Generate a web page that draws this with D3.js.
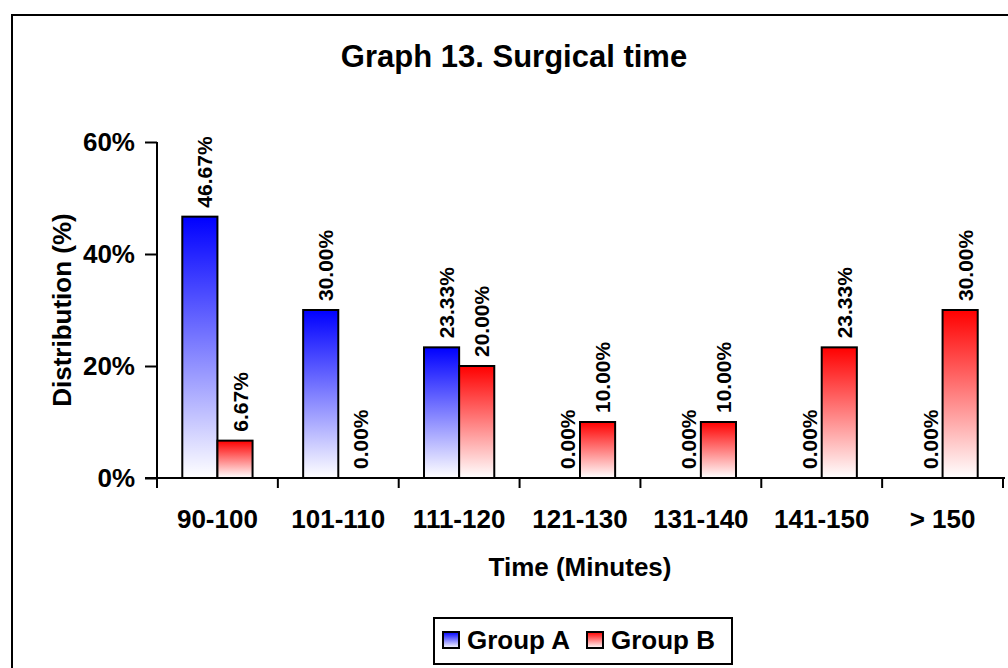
<!DOCTYPE html>
<html>
<head>
<meta charset="utf-8">
<script src="https://d3js.org/d3.v7.min.js"></script>
<style>
  body { margin: 0; background: #fff; }
  svg text { font-family: Arial, "Liberation Sans", sans-serif; font-weight: bold; fill: #000; }
</style>
</head>
<body>
<div id="chart"></div>
<script>
  // data
  var categories = ["90-100", "101-110", "111-120", "121-130", "131-140", "141-150", "> 150"];
  var groups = ["Group A", "Group B"];
  var groupA = [46.67, 30.00, 23.33, 0.00, 0.00, 0.00, 0.00];
  var groupB = [6.67, 0.00, 20.00, 10.00, 10.00, 23.33, 30.00];
  var yTicks = [0, 20, 40, 60];

  var W = 1008, H = 668;
  var plot = {left: 157, right: 1003, top: 142, bottom: 478};
  var colors = {"Group A": "#0000ff", "Group B": "#ff0000"};

  var svg = d3.select("#chart")
    .append("svg")
      .attr("width", W)
      .attr("height", H);

  // gradients, saturated at top fading to white
  var defs = svg.append("defs");
  groups.forEach(function(g, i) {
    var grad = defs.append("linearGradient")
      .attr("id", "grad" + i)
      .attr("x1", 0).attr("y1", 0).attr("x2", 0).attr("y2", 1);
    grad.append("stop").attr("offset", "0%").attr("stop-color", colors[g]);
    grad.append("stop").attr("offset", "100%").attr("stop-color", "#ffffff");
  });

  // outer frame (runs off right and bottom)
  svg.append("rect")
    .attr("x", 12).attr("y", 15)
    .attr("width", W).attr("height", H)
    .attr("fill", "none")
    .attr("stroke", "#000")
    .attr("stroke-width", 2);

  svg.append("text")
    .attr("x", 514).attr("y", 67)
    .attr("text-anchor", "middle")
    .style("font-size", "31px")
    .text("Graph 13. Surgical time");

  var x = d3.scaleBand()
    .domain(categories)
    .range([plot.left, plot.right]);

  var xSub = d3.scaleBand()
    .domain(groups)
    .range([0, x.bandwidth()])
    .paddingOuter(0.72);

  var y = d3.scaleLinear()
    .domain([0, 60])
    .range([plot.bottom, plot.top]);

  // Y axis
  var yAxis = svg.append("g")
    .attr("transform", "translate(" + plot.left + ",0)")
    .call(d3.axisLeft(y).tickValues(yTicks).tickSize(12).tickPadding(10).tickFormat(function(d) { return d + "%"; }));
  yAxis.select(".domain").attr("stroke-width", 2).attr("d", "M0," + plot.top + "V" + plot.bottom);
  yAxis.selectAll(".tick line").attr("stroke-width", 2);
  yAxis.selectAll(".tick text").style("font-size", "26px").attr("font-family", null);

  // X axis: ticks at category boundaries
  var xAxis = svg.append("g")
    .attr("transform", "translate(0," + plot.bottom + ")");
  xAxis.append("line")
    .attr("x1", plot.left - 12).attr("x2", plot.right + 2)
    .attr("stroke", "#000").attr("stroke-width", 2);
  xAxis.selectAll("line.tick")
    .data(categories.concat(["end"]))
    .enter().append("line")
    .attr("class", "tick")
    .attr("x1", function(d, i) { return i < categories.length ? x(d) : plot.right; })
    .attr("x2", function(d, i) { return i < categories.length ? x(d) : plot.right; })
    .attr("y1", 0).attr("y2", 10)
    .attr("stroke", "#000").attr("stroke-width", 2);
  xAxis.selectAll("text.cat")
    .data(categories)
    .enter().append("text")
    .attr("class", "cat")
    .attr("x", function(d) { return x(d) + x.bandwidth() / 2; })
    .attr("y", 50)
    .attr("text-anchor", "middle")
    .style("font-size", "26px")
    .text(function(d) { return d; });

  svg.append("text")
    .attr("x", 580).attr("y", 576)
    .attr("text-anchor", "middle")
    .style("font-size", "26px")
    .text("Time (Minutes)");

  svg.append("text")
    .attr("transform", "translate(71,310) rotate(-90)")
    .attr("text-anchor", "middle")
    .style("font-size", "26px")
    .text("Distribution (%)");

  // bars
  var rows = [];
  categories.forEach(function(c, i) {
    rows.push({cat: c, group: "Group A", gi: 0, value: groupA[i]});
    rows.push({cat: c, group: "Group B", gi: 1, value: groupB[i]});
  });

  svg.selectAll("rect.bar")
    .data(rows.filter(function(d) { return d.value > 0; }))
    .enter().append("rect")
    .attr("class", "bar")
    .attr("x", function(d) { return x(d.cat) + xSub(d.group); })
    .attr("y", function(d) { return y(d.value); })
    .attr("width", xSub.bandwidth())
    .attr("height", function(d) { return plot.bottom - y(d.value); })
    .attr("fill", function(d) { return "url(#grad" + d.gi + ")"; })
    .attr("stroke", "#000")
    .attr("stroke-width", 2);

  // value labels, rotated
  svg.selectAll("text.val")
    .data(rows)
    .enter().append("text")
    .attr("class", "val")
    .attr("transform", function(d) {
      var cx = x(d.cat) + xSub(d.group) + xSub.bandwidth() / 2 + 5;
      var cy = y(d.value) - 9;
      return "translate(" + cx + "," + cy + ") rotate(-90)";
    })
    .attr("dy", "0.36em")
    .attr("text-anchor", "start")
    .style("font-size", "21px")
    .text(function(d) { return d.value.toFixed(2) + "%"; });

  // legend
  var legend = svg.append("g");
  legend.append("rect")
    .attr("x", 434).attr("y", 618)
    .attr("width", 298).attr("height", 46)
    .attr("fill", "#fff")
    .attr("stroke", "#000").attr("stroke-width", 2);
  var lx = [443, 587];
  groups.forEach(function(g, i) {
    legend.append("rect")
      .attr("x", lx[i]).attr("y", 632)
      .attr("width", 16).attr("height", 16)
      .attr("fill", "url(#grad" + i + ")")
      .attr("stroke", "#000").attr("stroke-width", 2);
    legend.append("text")
      .attr("x", lx[i] + 24).attr("y", 649)
      .style("font-size", "26px")
      .text(g);
  });
</script>
</body>
</html>
